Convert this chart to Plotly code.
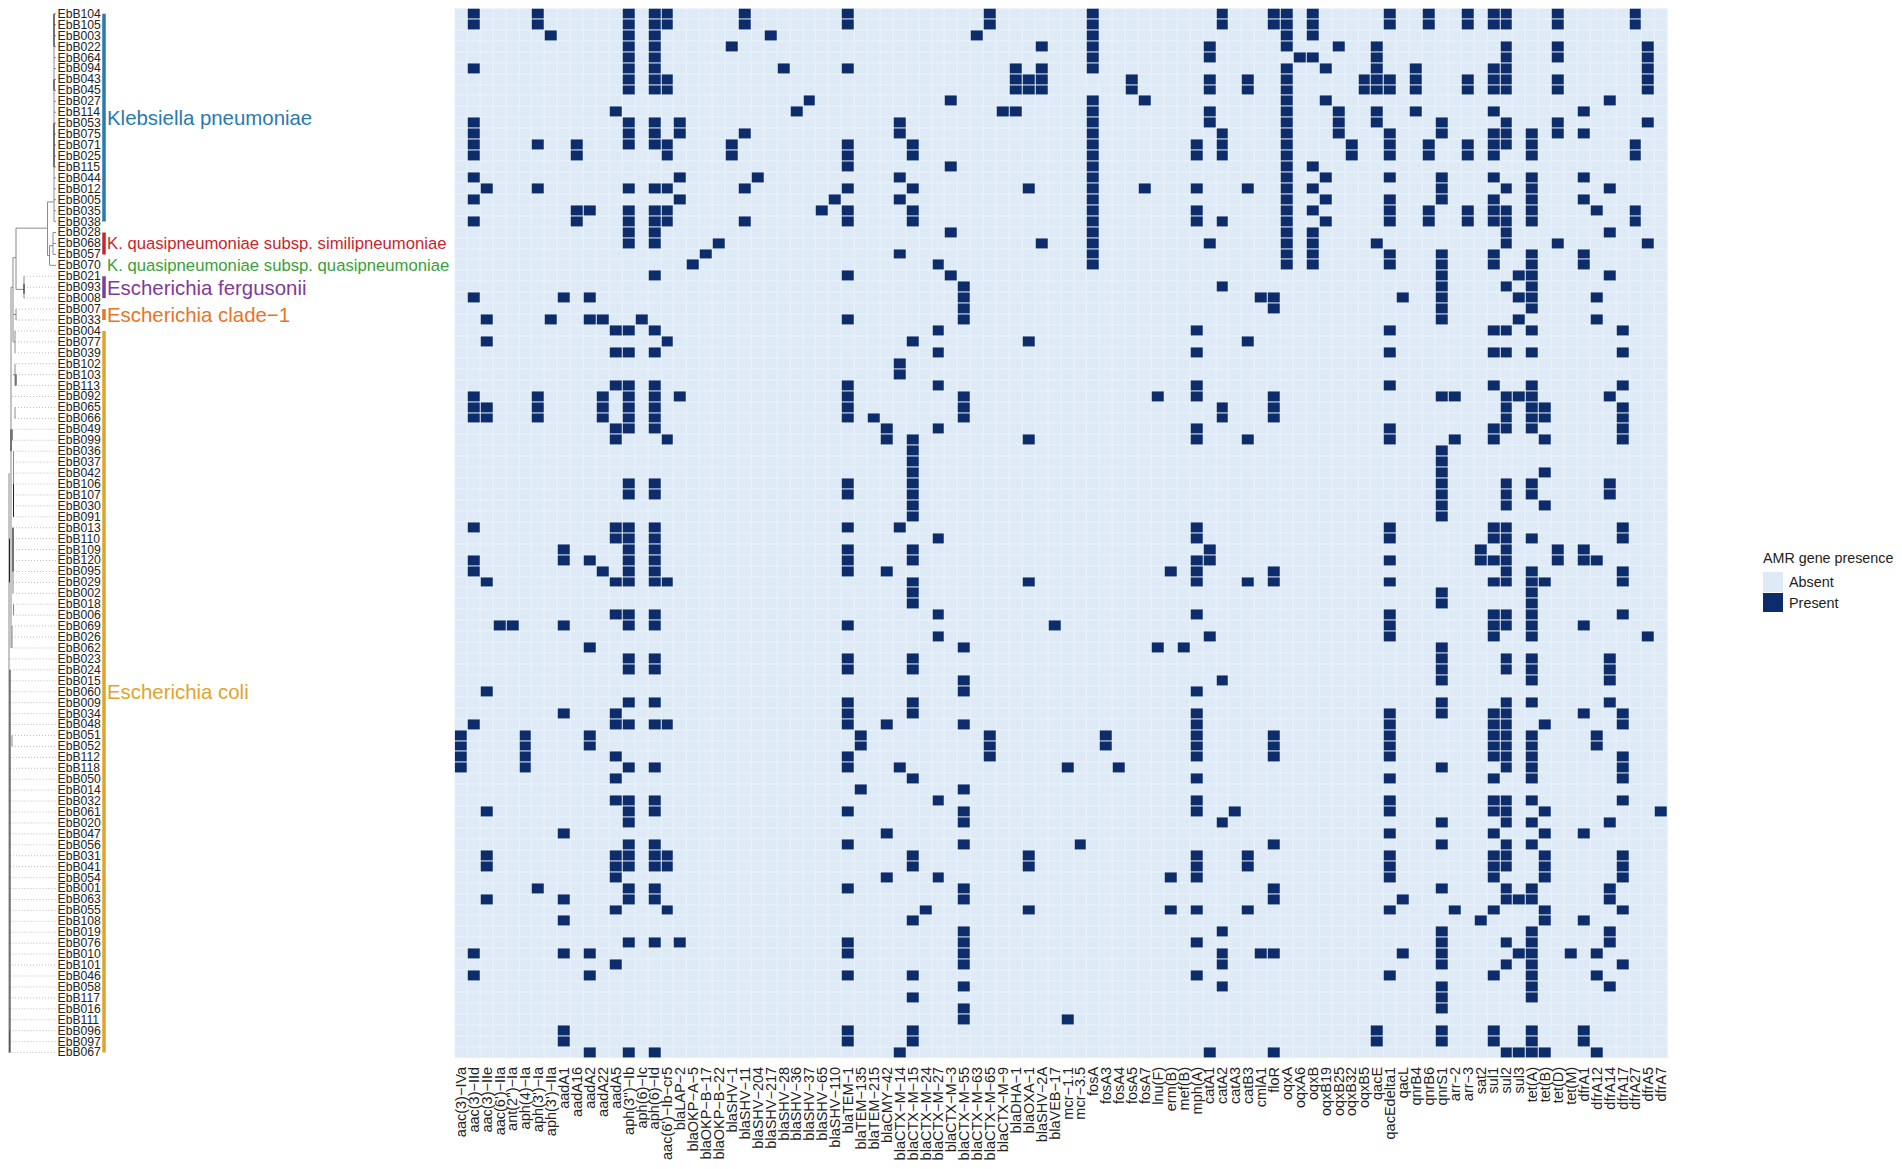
import plotly.graph_objects as go

W, H = 1902, 1169
FONT = "Liberation Sans"

row_labels = ["EbB104","EbB105","EbB003","EbB022","EbB064","EbB094","EbB043","EbB045","EbB027","EbB114",
"EbB053","EbB075","EbB071","EbB025","EbB115","EbB044","EbB012","EbB005","EbB035","EbB038",
"EbB028","EbB068","EbB057","EbB070","EbB021","EbB093","EbB008","EbB007","EbB033","EbB004",
"EbB077","EbB039","EbB102","EbB103","EbB113","EbB092","EbB065","EbB066","EbB049","EbB099",
"EbB036","EbB037","EbB042","EbB106","EbB107","EbB030","EbB091","EbB013","EbB110","EbB109",
"EbB120","EbB095","EbB029","EbB002","EbB018","EbB006","EbB069","EbB026","EbB062","EbB023",
"EbB024","EbB015","EbB060","EbB009","EbB034","EbB048","EbB051","EbB052","EbB112","EbB118",
"EbB050","EbB014","EbB032","EbB061","EbB020","EbB047","EbB056","EbB031","EbB041","EbB054",
"EbB001","EbB063","EbB055","EbB108","EbB019","EbB076","EbB010","EbB101","EbB046","EbB058",
"EbB117","EbB016","EbB111","EbB096","EbB097","EbB067"]

gene_labels = ["aac(3)−IVa","aac(3)−IId","aac(3)−IIe","aac(6')−IIa","ant(2'')−Ia","aph(4)−Ia","aph(3')−Ia","aph(3')−IIa",
"aadA1","aadA16","aadA2","aadA22","aadA5","aph(3'')−Ib","aph(6)−Ic","aph(6)−Id","aac(6')−Ib−cr5","blaLAP−2",
"blaOKP−A−5","blaOKP−B−17","blaOKP−B−22","blaSHV−1","blaSHV−11","blaSHV−204","blaSHV−217","blaSHV−28","blaSHV−36",
"blaSHV−37","blaSHV−65","blaSHV−110","blaTEM−1","blaTEM−135","blaTEM−215","blaCMY−42","blaCTX−M−14","blaCTX−M−15",
"blaCTX−M−24","blaCTX−M−27","blaCTX−M−3","blaCTX−M−55","blaCTX−M−63","blaCTX−M−65","blaCTX−M−9","blaDHA−1",
"blaOXA−1","blaSHV−2A","blaVEB−17","mcr−1.1","mcr−3.5","fosA","fosA3","fosA4","fosA5","fosA7","lnu(F)","erm(B)",
"mef(B)","mph(A)","catA1","catA2","catA3","catB3","cmlA1","floR","oqxA","oqxA6","oqxB","oqxB19","oqxB25","oqxB32",
"oqxB5","qacE","qacEdelta1","qacL","qnrB4","qnrB6","qnrS1","arr−2","arr−3","sat2","sul1","sul2","sul3","tet(A)",
"tet(B)","tet(D)","tet(M)","dfrA1","dfrA12","dfrA14","dfrA17","dfrA27","dfrA5","dfrA7"]

# gene column indices present in each isolate, top row first
present_cols = [
[1,6,13,15,16,22,30,41,49,59,63,64,66,72,75,78,80,81,85,91],
[1,6,13,15,16,22,30,41,49,59,63,64,66,72,75,78,80,81,85,91],
[7,13,15,24,40,49,64,66],
[13,15,21,45,49,58,64,68,71,81,85,92],
[13,15,49,58,65,66,71,81,85,92],
[1,13,15,25,30,43,45,49,64,67,71,74,80,81,92],
[13,15,16,43,44,45,52,58,61,64,70,71,72,74,78,80,81,85,92],
[13,15,16,43,44,45,52,58,61,64,70,71,72,74,78,80,81,85,92],
[27,38,49,53,64,67,89],
[12,26,42,43,49,58,64,68,71,74,80,87],
[1,13,15,17,34,49,58,64,68,71,76,81,85,92],
[1,13,15,17,22,34,49,59,64,68,72,76,80,81,83,85,87],
[1,6,9,13,15,16,21,30,35,49,57,59,64,69,72,75,78,80,81,83,91],
[1,9,16,21,30,35,49,57,59,64,69,72,75,78,80,83,91],
[30,38,49,64,66],
[1,17,23,34,49,64,67,72,76,80,83,87],
[2,6,13,15,16,22,30,35,44,49,53,57,61,64,66,76,81,83,89],
[1,17,29,34,49,64,67,72,76,80,83,87],
[9,10,13,15,16,28,30,35,49,57,64,66,72,75,78,80,81,83,88,91],
[1,9,13,15,16,22,30,35,49,57,59,64,67,72,75,78,80,81,83,91],
[13,15,38,49,64,66,81,89],
[13,15,20,45,49,58,64,66,71,81,85,92],
[19,34,49,64,66,72,76,80,83,87],
[18,37,49,64,66,72,76,80,83,87],
[15,30,38,76,82,83,89],
[39,59,76,81,83],
[1,8,10,39,62,63,73,76,82,83,88],
[39,63,76,83],
[2,7,10,11,14,30,39,76,82,88],
[12,13,15,37,57,72,80,81,83,90],
[2,16,35,44,61],
[12,13,15,37,57,72,80,81,83,90],
[34],
[34],
[12,13,15,30,37,57,72,80,83,90],
[1,6,11,13,15,17,30,39,54,57,63,76,77,81,82,83,89],
[1,2,6,11,13,15,30,39,59,63,81,83,84,90],
[1,2,6,11,13,15,30,32,39,59,63,81,83,84,90],
[12,13,15,33,37,57,72,80,81,83,90],
[12,16,33,35,44,57,61,72,77,80,84,90],
[35,76],
[35,76],
[35,76,84],
[13,15,30,35,76,81,83,89],
[13,15,30,35,76,81,83,89],
[35,76,81,84],
[35,76],
[1,12,13,15,30,34,57,72,80,81,90],
[12,13,15,37,57,72,80,81,83,90],
[8,13,15,30,35,58,79,81,85,87],
[1,8,10,13,15,30,35,57,58,72,79,80,81,85,87,88],
[1,11,13,15,30,33,55,57,63,81,83,90],
[2,12,13,15,16,35,44,57,61,63,72,80,81,83,84,90],
[35,76,83],
[35,76,83],
[12,13,15,37,57,72,80,81,83,90],
[3,4,8,13,15,30,46,72,80,81,83,87],
[37,58,72,80,83,92],
[10,39,54,56,76],
[13,15,30,35,76,81,83,89],
[13,15,30,35,76,81,83,89],
[39,59,76,83,89],
[2,39,57],
[13,15,30,35,76,81,83,89],
[8,12,30,35,57,72,76,80,81,87,90],
[1,12,13,15,16,30,33,39,57,72,80,81,84,90],
[0,5,10,31,41,50,57,63,72,80,81,83,88],
[0,5,10,31,41,50,57,63,72,80,81,83,88],
[0,5,12,30,41,57,63,72,80,81,83,90],
[0,5,13,15,30,34,47,51,76,81,83,90],
[12,35,57,72,80,83,90],
[31,39],
[12,13,15,37,57,72,80,81,83,90],
[2,13,15,30,39,57,60,72,80,81,84,93],
[13,39,59,76,81,83,89],
[8,33,72,80,84,87],
[13,15,30,39,48,63,76,81,83],
[2,12,13,15,16,35,44,57,61,72,80,81,84,90],
[2,12,13,15,16,35,44,57,61,72,80,81,84,90],
[12,33,37,55,57,72,80,84,90],
[6,13,15,30,39,63,76,81,83,89],
[2,8,13,15,39,63,73,81,82,83,89],
[12,16,36,44,55,57,61,72,77,80,84,90],
[8,35,79,84,87],
[39,59,76,83,89],
[13,15,17,30,39,57,76,81,83,89],
[1,8,10,30,39,59,62,63,73,76,82,83,86,88],
[12,39,59,76,81,83,90],
[1,10,30,35,57,72,80,83,88],
[39,59,76,83,89],
[35,76,83],
[39,76],
[39,47],
[8,30,35,71,76,80,83,87],
[8,30,35,71,76,80,83,87],
[10,13,15,34,58,63,81,82,83,84,88],
]

# dendrogram: x of each isolate's parent node, and branch pieces (x0, row0, x1, row1)
tip_start = [54,54,54,54,54,54,54,54,54,54,54,54,54,54,54,54,54,54,54,54,
53,53,53,50,24,24,24,16,16,15,15,15,16,16,15,12,15,15,12.5,12.5,
13.5,13.5,13.5,13.5,13.5,13.5,13.5,13,13,13,13,13,13,13,13.5,13.5,12,12,11.5,9.5,
10.5,10.5,9.5,9.5,9.5,9.5,12,12,10,10,9.5,9.5,9.5,9.5,9.5,9.5,9.5,10,10,9.5,
9.5,9.5,9.5,9.5,9.5,9.5,9.5,9,9.5,9.5,9,9.5,9.5,9.5,9.5,8.5]
grey_branches = [
(54,0,54,19),(47.5,17.2,54,17.2),(47.5,17.2,47.5,22.1),(16,19.6,47.5,19.6),(16,19.6,16,25.2),
(16,25.2,24,25.2),(24,24,24,26),(47.5,22.1,49.5,22.1),(49.5,21.2,49.5,23),(49.5,21.2,53,21.2),(53,20,53,22),
(13,22.3,16,22.3),(13,22.3,13,30),(13,27.5,16,27.5),(16,27,16,28),(13,30,15,30),(15,29,15,31),(11,25,13,25),
(11,25,11,58),(13,33,16,33),(15,32,15,34),(15,36,15,37),(12.5,38,12.5,39),(13.5,40,13.5,46),(13,47,13,53),
(13.5,54,13.5,55),(12,56,12,58),(9,42,9,95),(12,66,12,67),(9.5,93,9.5,95)]
dark_branches = [
(54,0,54,3),(54,6,54,7),(54,10,54,14),(24,24.7,24,25.6),(11,38,11,40),(13.5,43,13.5,46),(13,47,13,51),
(10,60,10,95),(9.5,48,9.5,52),(16,33,16,34)]

# clades: name, first row, last row, colour, label row, label size
clade_names = ["Klebsiella pneumoniae","K. quasipneumoniae subsp. similipneumoniae","K. quasipneumoniae subsp. quasipneumoniae",
               "Escherichia fergusonii","Escherichia clade−1","Escherichia coli"]
clade_first = [0,20,23,24,27,29]
clade_last = [19,22,23,26,28,95]
clade_colors = ["#2A7AB0","#C9252D","#3A9E3A","#7F3A9A","#EB7326","#E3A32B"]
clade_text_row = [9.72,21.1,23.1,25.22,27.72,62.22]
clade_text_size = [20.4,16.7,16.7,20.4,20.4,20.4]
legend_labels = ["Absent","Present"]
legend_title = "AMR gene presence"

ABSENT, PRESENT, GRID = "#DEEBF7", "#0D2C6C", "#EAF2FA"
scale = [[0, ABSENT], [0.5, ABSENT], [0.5, PRESENT], [1, PRESENT]]

rows = list(range(len(row_labels)))
z = [[1 if c in cols else 0 for c in range(len(gene_labels))] for cols in present_cols]

def seg(items):
    xs, ys = [], []
    for x0, r0, x1, r1 in items:
        xs += [x0, x1, None]
        ys += [r0, r1, None]
    return xs, ys

fig = go.Figure()
fig.add_trace(go.Heatmap(z=z, x=gene_labels, y=rows, zmin=0, zmax=1, colorscale=scale, showscale=False,
                         xgap=1, ygap=1, hoverinfo="skip"))

TIP_END = 56
dot = [(tip_start[r], r, TIP_END, r) for r in rows if r >= 24]
solid = [(tip_start[r], r, TIP_END, r) for r in rows if r < 24]
xs, ys = seg(dot)
fig.add_trace(go.Scatter(x=xs, y=ys, xaxis="x2", yaxis="y", mode="lines", hoverinfo="skip",
                         line=dict(color="#a8a8a8", width=0.8, dash="1px,2px")))
xs, ys = seg(grey_branches + solid)
fig.add_trace(go.Scatter(x=xs, y=ys, xaxis="x2", yaxis="y", mode="lines", hoverinfo="skip",
                         line=dict(color="#8a8a8a", width=1)))
xs, ys = seg(dark_branches)
fig.add_trace(go.Scatter(x=xs, y=ys, xaxis="x2", yaxis="y", mode="lines", hoverinfo="skip",
                         line=dict(color="#222222", width=1)))
fig.add_trace(go.Scatter(x=[57.5] * len(rows), y=[r + 0.08 for r in rows], text=row_labels, xaxis="x2", yaxis="y",
                         mode="text", textposition="middle right", hoverinfo="skip",
                         textfont=dict(family=FONT, size=12.2, color="#222222")))
for name, a, b, col, tr, ts in zip(clade_names, clade_first, clade_last, clade_colors, clade_text_row, clade_text_size):
    if b > a:
        fig.add_trace(go.Scatter(x=[104, 104], y=[a, b], xaxis="x2", yaxis="y", mode="lines", hoverinfo="skip",
                                 line=dict(color=col, width=3.5)))
    fig.add_trace(go.Scatter(x=[107], y=[tr], text=[name], xaxis="x2", yaxis="y", mode="text",
                             textposition="middle right", hoverinfo="skip",
                             textfont=dict(family=FONT, size=ts, color=col)))

fig.add_trace(go.Heatmap(z=[[0], [1]], x=["k"], y=legend_labels, xaxis="x3", yaxis="y3", zmin=0, zmax=1,
                         colorscale=scale, showscale=False, ygap=1, hoverinfo="skip"))

fig.update_layout(
    width=W, height=H, margin=dict(l=0, r=0, t=0, b=0, pad=0), showlegend=False,
    paper_bgcolor="white", plot_bgcolor="white", font=dict(family=FONT, color="#222222"),
    shapes=[dict(type="rect", xref="x domain", yref="y domain", x0=0, x1=1, y0=0, y1=1, layer="below",
                 fillcolor=GRID, line_width=0)],
    xaxis=dict(domain=[454.7 / W, 1668 / W], anchor="y", type="category", tickmode="array", tickvals=gene_labels,
               ticktext=gene_labels, tickangle=-90, ticklen=0, showgrid=False, zeroline=False, showline=False,
               tickfont=dict(family=FONT, size=14.5, color="#222222"), automargin=False, ticklabelstandoff=5),
    yaxis=dict(domain=[1 - 1058 / H, 1 - 8.4 / H], anchor="x", range=[95.5, -0.5], visible=False, showgrid=False),
    xaxis2=dict(domain=[0, 454 / W], range=[0, 454], anchor="y", visible=False, showgrid=False, zeroline=False),
    xaxis3=dict(domain=[1763 / W, 1783 / W], anchor="y3", visible=False),
    yaxis3=dict(domain=[1 - 613 / H, 1 - 572 / H], anchor="x3", side="right", type="category", autorange="reversed",
                ticklen=0, showgrid=False, zeroline=False, showline=False, automargin=False, ticklabelstandoff=5,
                tickfont=dict(family=FONT, size=14.4, color="#222222")),
    annotations=[dict(text=legend_title, x=1760.5 / W, y=1 - 558 / H, xref="paper", yref="paper", xanchor="left",
                      yanchor="middle", showarrow=False, font=dict(family=FONT, size=14.3, color="#222222"))],
)

fig.write_html("out.html", config=dict(displayModeBar=False),
               post_script="document.body.style.margin='0';document.documentElement.style.overflow='hidden';")
